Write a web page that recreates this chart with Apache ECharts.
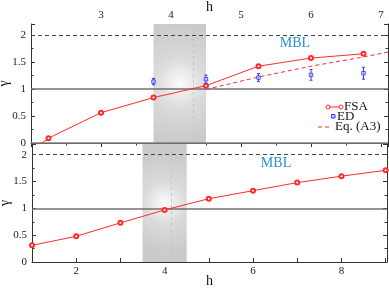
<!DOCTYPE html>
<html><head><meta charset="utf-8">
<script src="https://cdn.jsdelivr.net/npm/echarts@6/dist/echarts.min.js"></script>
<style>html,body{margin:0;padding:0;background:#fff}#c{width:389px;height:292px}</style>
</head><body><div id="c"></div>
<script>
// ---- data ----
const topTickLabels = [3, 4, 5, 6, 7];
const botTickLabels = [2, 4, 6, 8];
const yTickLabels = [0, 0.5, 1, 1.5, 2];
const topFsaH = [2.0, 2.25, 3.0, 3.75, 4.5, 5.25, 6.0, 6.75];
const topFsaG = [-0.15, 0.09, 0.56, 0.84, 1.06, 1.42, 1.57, 1.65];
const edH = [3.75, 4.5, 5.25, 6.0, 6.75];
const edG = [1.135, 1.18, 1.21, 1.26, 1.29];
const edErr = [0.06, 0.075, 0.075, 0.1, 0.11];
const eqH = [4.5, 5.25, 6.0, 6.75, 7.1];
const eqG = [0.99, 1.22, 1.42, 1.59, 1.68];
const botFsaH = [1, 2, 3, 4, 5, 6, 7, 8, 9];
const botFsaG = [0.31, 0.48, 0.73, 0.97, 1.18, 1.33, 1.48, 1.60, 1.71];
const topBand = [3.75, 4.5];
const topMark = 4.32;
const botBand = [3.5, 4.5];
const botMark = 4.15;
const mblTop = [5.77, 1.85];
const mblBot = [6.52, 1.84];
const legendNames = ['FSA', 'ED', 'Eq. (A3)'];

// ---- styles ----
const FONT = 'Liberation Serif';
const RED = '#ff2a2a';
const BLUE = '#3535ff';
const MBLC = '#2a8fd4';
const zip = (a, b) => a.map((v, i) => [v, b[i]]);

const bandFill = {
  type: 'radial', x: 0.5, y: 0.5, r: 1.1,
  colorStops: [
    { offset: 0, color: '#fbfbfb' },
    { offset: 0.45, color: '#dadada' },
    { offset: 1, color: '#cbcbcb' }
  ]
};

function refLines(mark, withZero) {
  const d = [
    { yAxis: 1, lineStyle: { color: '#707070', width: 1.5, type: 'solid' } },
    { yAxis: 2, lineStyle: { color: '#444', width: 1, type: [4, 3] } },
    { xAxis: mark, lineStyle: { color: '#c4c4c4', width: 1, type: [3, 3] } }
  ];
  if (withZero) d.push({ yAxis: 0, lineStyle: { color: '#808080', width: 1.5, type: 'solid' } });
  return { silent: true, symbol: ['none', 'none'], label: { show: false }, animation: false, data: d };
}

function xAxisCommon(extra) {
  return Object.assign({
    type: 'value', name: 'h', nameLocation: 'middle', nameGap: 14, nameMoveOverlap: false,
    nameTextStyle: { fontFamily: FONT, fontSize: 14, color: '#111' },
    axisLine: { show: true, lineStyle: { color: '#333', width: 1 } },
    axisTick: { show: true, inside: true, length: 4, lineStyle: { color: '#333' } },
    splitLine: { show: false }
  }, extra);
}
function yAxisCommon(extra) {
  return Object.assign({
    type: 'value', min: 0, max: 2.2, interval: 0.5, nameMoveOverlap: false,
    axisLine: { show: true, lineStyle: { color: '#333', width: 1 } },
    axisTick: { show: true, inside: true, length: 4, lineStyle: { color: '#333' } },
    minorTick: { show: true, splitNumber: 2, length: 2.5, lineStyle: { color: '#333' } },
    splitLine: { show: false }, minorSplitLine: { show: false }
  }, extra);
}
const yLabel = {
  show: true, fontFamily: FONT, fontSize: 11, color: '#222', margin: 5,
  formatter: v => (yTickLabels.some(t => Math.abs(t - v) < 1e-6) ? String(v) : '')
};

const chart = echarts.init(document.getElementById('c'), null, { renderer: 'canvas' });
chart.setOption({
  animation: false,
  backgroundColor: '#fff',
  grid: [
    { left: 31, top: 24, width: 357, height: 119, show: false, containLabel: false, outerBoundsMode: 'none' },
    { left: 32, top: 144, width: 355, height: 118, show: false, containLabel: false, outerBoundsMode: 'none' }
  ],
  xAxis: [
    xAxisCommon({
      gridIndex: 0, position: 'top', min: 2, max: 7.1, interval: 1, nameGap: 10,
      minorTick: { show: true, splitNumber: 2, length: 2.5, lineStyle: { color: '#333' } },
      axisLabel: {
        fontFamily: FONT, fontSize: 11, color: '#222', margin: 3,
        formatter: v => (topTickLabels.some(t => Math.abs(t - v) < 1e-6) ? String(v) : '')
      }
    }),
    xAxisCommon({
      gridIndex: 1, position: 'bottom', min: 1, max: 9.03, interval: 1, nameGap: 12,
      axisLabel: {
        fontFamily: FONT, fontSize: 11, color: '#222', margin: 4,
        formatter: v => (botTickLabels.some(t => Math.abs(t - v) < 1e-6) ? String(v) : '')
      }
    })
  ],
  yAxis: [
    yAxisCommon({ gridIndex: 0, position: 'left', name: 'γ', nameLocation: 'middle', nameGap: 20, nameRotate: 90,
      nameTextStyle: { fontFamily: FONT, fontSize: 14, color: '#111' }, axisLabel: yLabel }),
    yAxisCommon({ gridIndex: 0, position: 'right', axisLabel: { show: false } }),
    yAxisCommon({ gridIndex: 1, position: 'left', name: 'γ', nameLocation: 'middle', nameGap: 20, nameRotate: 90,
      nameTextStyle: { fontFamily: FONT, fontSize: 14, color: '#111' }, axisLabel: yLabel }),
    yAxisCommon({ gridIndex: 1, position: 'right', axisLabel: { show: false } })
  ],
  series: [
    {
      name: legendNames[0], type: 'line', xAxisIndex: 0, yAxisIndex: 0, clip: true,
      data: zip(topFsaH, topFsaG), symbol: 'emptyCircle', symbolSize: 4, z: 5,
      lineStyle: { color: RED, width: 1 }, itemStyle: { color: RED, borderWidth: 1 },
      markArea: { silent: true, itemStyle: { color: bandFill }, data: [[{ xAxis: topBand[0] }, { xAxis: topBand[1] }]] },
      markLine: refLines(topMark, true)
    },
    {
      name: legendNames[2], type: 'line', xAxisIndex: 0, yAxisIndex: 0, clip: true,
      data: zip(eqH, eqG), symbol: 'none', z: 4,
      lineStyle: { color: RED, width: 1, type: [4, 3] }
    },
    {
      name: 'EDerr', type: 'custom', xAxisIndex: 0, yAxisIndex: 0, z: 6,
      data: edH.map((h, i) => [h, edG[i] - edErr[i], edG[i] + edErr[i]]),
      encode: { x: 0, y: [1, 2] },
      renderItem: function (params, api) {
        const x = api.value(0);
        const p1 = api.coord([x, api.value(1)]);
        const p2 = api.coord([x, api.value(2)]);
        const c = 1.5;
        const st = { stroke: BLUE, lineWidth: 1 };
        return { type: 'group', children: [
          { type: 'line', shape: { x1: p1[0], y1: p1[1], x2: p2[0], y2: p2[1] }, style: st },
          { type: 'line', shape: { x1: p1[0] - c, y1: p1[1], x2: p1[0] + c, y2: p1[1] }, style: st },
          { type: 'line', shape: { x1: p2[0] - c, y1: p2[1], x2: p2[0] + c, y2: p2[1] }, style: st }
        ] };
      }
    },
    {
      name: legendNames[1], type: 'scatter', xAxisIndex: 0, yAxisIndex: 0, z: 7,
      data: zip(edH, edG), symbol: 'rect', symbolSize: 3.5,
      itemStyle: { color: '#c8c8ff', borderColor: BLUE, borderWidth: 1 }
    },
    {
      name: 'FSA2', type: 'line', xAxisIndex: 1, yAxisIndex: 2, clip: true,
      data: zip(botFsaH, botFsaG), symbol: 'emptyCircle', symbolSize: 4, z: 5,
      lineStyle: { color: RED, width: 1 }, itemStyle: { color: RED, borderWidth: 1 },
      markArea: { silent: true, itemStyle: { color: bandFill }, data: [[{ xAxis: botBand[0] }, { xAxis: botBand[1] }]] },
      markLine: refLines(botMark, false),
      markPoint: {
        silent: true, symbol: 'circle', symbolSize: 0,
        label: { show: true, formatter: 'MBL', fontFamily: FONT, fontSize: 14, color: MBLC, position: 'inside' },
        data: [{ coord: mblBot }]
      }
    },
    {
      name: 'MBLtop', type: 'scatter', xAxisIndex: 0, yAxisIndex: 0, data: [],
      markPoint: {
        silent: true, symbol: 'circle', symbolSize: 0,
        label: { show: true, formatter: 'MBL', fontFamily: FONT, fontSize: 14, color: MBLC, position: 'inside' },
        data: [{ coord: mblTop }]
      }
    }
  ],
  graphic: [
    { type: 'line', shape: { x1: 328, y1: 107, x2: 341, y2: 107 }, style: { stroke: RED, lineWidth: 1 }, z: 10 },
    { type: 'circle', shape: { cx: 328, cy: 107, r: 2 }, style: { stroke: RED, fill: '#fff', lineWidth: 1 }, z: 11 },
    { type: 'circle', shape: { cx: 341, cy: 107, r: 2 }, style: { stroke: RED, fill: '#fff', lineWidth: 1 }, z: 11 },
    { type: 'text', x: 344, y: 107, style: { text: legendNames[0], font: '13px "Liberation Serif"', fill: '#111', verticalAlign: 'middle', align: 'left' }, z: 10 },
    { type: 'rect', shape: { x: 331.5, y: 114.5, width: 3.5, height: 3.5 }, style: { stroke: BLUE, fill: '#c8c8ff', lineWidth: 1 }, z: 10 },
    { type: 'text', x: 337, y: 116.5, style: { text: legendNames[1], font: '13px "Liberation Serif"', fill: '#111', verticalAlign: 'middle', align: 'left' }, z: 10 },
    { type: 'line', shape: { x1: 318, y1: 127, x2: 332, y2: 127 }, style: { stroke: RED, lineWidth: 1, lineDash: [4, 3] }, z: 10 },
    { type: 'text', x: 335, y: 127, style: { text: legendNames[2], font: '13px "Liberation Serif"', fill: '#111', verticalAlign: 'middle', align: 'left' }, z: 10 }
  ]
});
</script>
</body></html>
